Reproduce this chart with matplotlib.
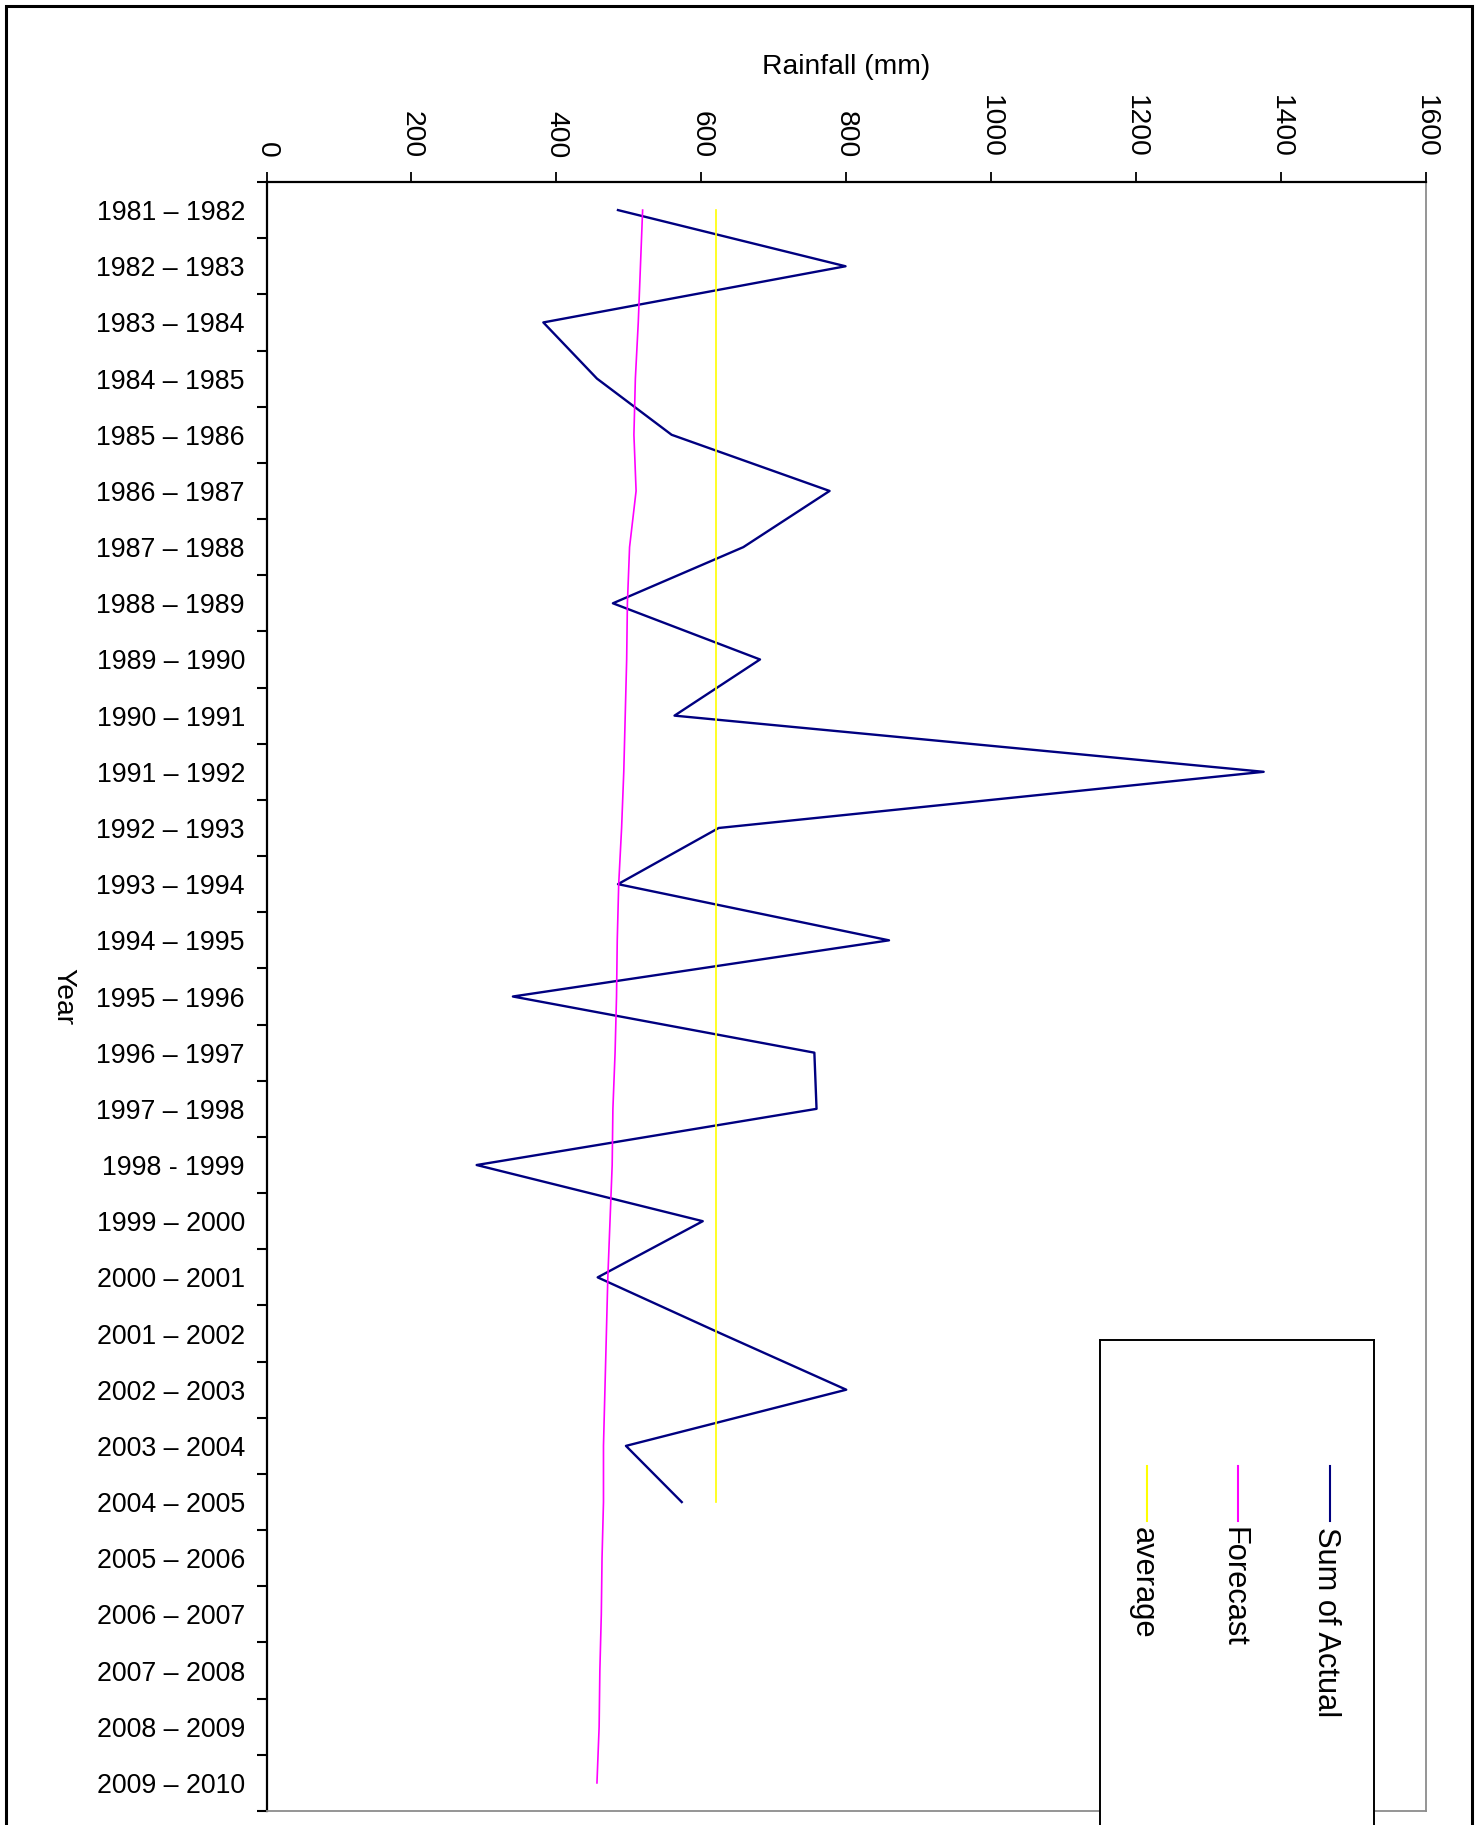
#!/usr/bin/python3
import numpy as np
import matplotlib
matplotlib.use('Agg')
import matplotlib.pyplot as plt
from matplotlib.patches import Rectangle

# ==============================================================================
# Constants
#
FIGURE_SIZE = (14.8, 18.25)
DPI = 100
FONT_SIZE = 19.3
LABEL_SIZE = 20.3
LEGEND_SIZE = 22.2
NAVY = '#000080'
MAGENTA = '#FF00FF'
YELLOW = '#FFFF00'
GREY = '#8C8C8C'

plt.rcParams['font.family'] = ['Liberation Sans', 'DejaVu Sans']
plt.rcParams['font.size'] = FONT_SIZE

# ==============================================================================
# Data
#
seasons = [
    '1981 – 1982', '1982 – 1983', '1983 – 1984', '1984 – 1985',
    '1985 – 1986', '1986 – 1987', '1987 – 1988', '1988 – 1989',
    '1989 – 1990', '1990 – 1991', '1991 – 1992', '1992 – 1993',
    '1993 – 1994', '1994 – 1995', '1995 – 1996', '1996 – 1997',
    '1997 – 1998', '1998 - 1999', '1999 – 2000', '2000 – 2001',
    '2001 – 2002', '2002 – 2003', '2003 – 2004', '2004 – 2005',
    '2005 – 2006', '2006 – 2007', '2007 – 2008', '2008 – 2009',
    '2009 – 2010',
]
                                                      # observed rainfall (mm)
actual = [
    485, 799, 382, 456, 559, 777, 658, 478, 681, 563,
    1376, 624, 485, 859, 340, 756, 759, 290, 602, 457,
    627, 800, 496, 573,
]
                                                      # forecast rainfall (mm)
forecast = [
    519, 516, 513, 509, 507, 510, 501, 498, 497, 495,
    493, 490, 486, 484, 483, 481, 478, 477, 474, 471,
    469, 467, 465, 465, 463, 462, 460, 459, 456,
]
                                                     # long term average (mm)
average = 620

rainfall_ticks = np.arange(0, 1601, 200)

# ==============================================================================
# Main
#
fig = plt.figure(figsize=FIGURE_SIZE, dpi=DPI)
fig.patch.set_facecolor('white')
                                                                  # page frame
fig.patches.append(Rectangle(
    (5.5/1480, -0.05), (1472 - 5.5)/1480, 1.05 - 5.5/1825,
    transform=fig.transFigure, fill=False, edgecolor='black', linewidth=2.2
))
                                                                   # main axes
ax = fig.add_axes([266.5/1480, 1 - 1811/1825, (1426 - 266.5)/1480, (1811 - 182)/1825])
y = np.arange(len(seasons))

ax.plot(actual, y[:len(actual)], color=NAVY, linewidth=1.7, label='Sum of Actual')
ax.plot(forecast, y[:len(forecast)], color=MAGENTA, linewidth=1.2, label='Forecast')
ax.plot([average]*len(actual), y[:len(actual)], color=YELLOW, linewidth=1.2, label='average')

ax.set_xlim(0, 1600)
ax.set_ylim(len(seasons) - 0.5, -0.5)
                                                             # rainfall axis
ax.xaxis.tick_top()
ax.xaxis.set_label_position('top')
ax.set_xticks(rainfall_ticks)
ax.set_xticklabels([str(v) for v in rainfall_ticks])
ax.tick_params(axis='x', direction='out', length=7.2, width=1.3,
               labelrotation=270, pad=10, labelsize=LABEL_SIZE)
ax.set_xlabel('Rainfall (mm)', fontsize=LABEL_SIZE, va='center')
ax.xaxis.set_label_coords(0.5, 1 + (182 - 67)/1629)
                                                               # season axis
ax.set_yticks(y)
ax.set_yticklabels(seasons)
ax.set_yticks(np.arange(len(seasons) + 1) - 0.5, minor=True)
ax.tick_params(axis='y', which='major', length=0, pad=15.5, labelsize=FONT_SIZE)
ax.tick_params(axis='y', which='minor', direction='out', length=7.2, width=1.5)
ax.set_ylabel('Year', fontsize=LABEL_SIZE, rotation=270, va='center', ha='center')
ax.yaxis.set_label_coords((63 - 266.5)/(1426 - 266.5), 0.5)
                                                                    # spines
ax.spines['top'].set_color('black')
ax.spines['top'].set_linewidth(1.6)
ax.spines['left'].set_color('black')
ax.spines['left'].set_linewidth(1.6)
ax.spines['right'].set_color(GREY)
ax.spines['right'].set_linewidth(1.3)
ax.spines['bottom'].set_color(GREY)
ax.spines['bottom'].set_linewidth(1.3)
                                                           # turned legend box
leg = fig.add_axes([1099.5/1480, -0.05, (1374 - 1099.5)/1480, 0.05 + 1 - 1340/1825])
leg.set_xlim(1099.5, 1374)
leg.set_ylim(1825*1.05, 1340)
leg.set_xticks([])
leg.set_yticks([])
for side in leg.spines.values():
    side.set_color('black')
    side.set_linewidth(1.4)

legend_entries = [
    ('Sum of Actual', NAVY, 1330),
    ('Forecast', MAGENTA, 1238),
    ('average', YELLOW, 1147),
]
for name, colour, x in legend_entries:
    leg.plot([x, x], [1466, 1521], color=colour, linewidth=1.5)
    leg.text(x - 4, 1527, name, rotation=270, ha='center', va='top',
             fontsize=LEGEND_SIZE)

plt.savefig('out.png', dpi=DPI)
